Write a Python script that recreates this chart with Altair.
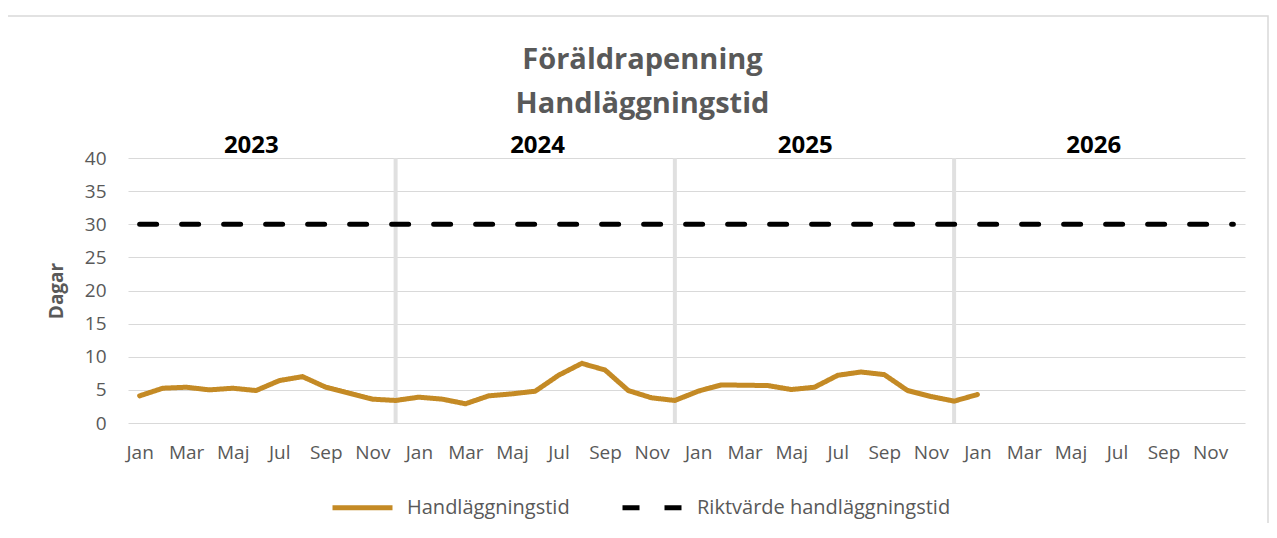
import altair as alt
import pandas as pd

month_names = ["Jan", "Feb", "Mar", "Apr", "Maj", "Jun", "Jul", "Aug", "Sep", "Okt", "Nov", "Dec"]
years = ["2023", "2024", "2025", "2026"]

# Handläggningstid (dagar), Jan 2023 - Jan 2026
handl = [4.1, 5.25, 5.4, 5.0, 5.25, 4.9, 6.4, 7.0, 5.4, 4.5, 3.6, 3.4,
         3.9, 3.6, 2.9, 4.1, 4.4, 4.8, 7.2, 9.0, 8.0, 4.9, 3.8, 3.4,
         4.8, 5.75, 5.7, 5.65, 5.05, 5.4, 7.2, 7.7, 7.3, 4.9, 4.0, 3.3,
         4.3]

# Riktvärde handläggningstid, Jan 2023 - Dec 2026
riktvarde = [30, 30, 30, 30, 30, 30, 30, 30, 30, 30, 30, 30,
             30, 30, 30, 30, 30, 30, 30, 30, 30, 30, 30, 30,
             30, 30, 30, 30, 30, 30, 30, 30, 30, 30, 30, 30,
             30, 30, 30, 30, 30, 30, 30, 30, 30, 30, 30, 30]

year_label_pos = [4.8, 17.1, 28.6, 41.0]   # month-index position of year labels
separator_pos = [11, 23, 35]               # December of 2023, 2024, 2025

S1 = "Handläggningstid"
S2 = "Riktvärde handläggningstid"

rows = []
for i, v in enumerate(handl):
    rows.append({"idx": i, "value": v, "serie": S1})
for i, v in enumerate(riktvarde):
    rows.append({"idx": i, "value": v, "serie": S2})
df = pd.DataFrame(rows)

FONT = "Open Sans"
GRAY = "#595959"
GRID = "#d9d9d9"

label_expr = "[" + ",".join("'%s'" % m for m in month_names) + "][datum.value % 12]"

x_scale = alt.Scale(domain=[-0.5, 47.5], nice=False, zero=False)
y_scale = alt.Scale(domain=[0, 40], nice=False)

x_axis = alt.Axis(values=list(range(0, 48, 2)), labelExpr=label_expr,
                  grid=False, ticks=False, domain=False, title=None,
                  labelPadding=20, labelFontSize=19, labelColor=GRAY,
                  labelFont=FONT, labelFlush=False, labelOverlap=False)
y_axis = alt.Axis(values=list(range(0, 45, 5)), grid=True, gridColor=GRID,
                  gridWidth=1, ticks=False, domain=False, title="Dagar",
                  titleFontSize=19, titleFont=FONT, titleColor=GRAY,
                  titleFontWeight="bold", titlePadding=18,
                  labelPadding=22, labelFontSize=19, labelColor=GRAY,
                  labelFont=FONT, labelOverlap=False)

frame = alt.Chart(pd.DataFrame({"a": [0]})).mark_rect(
    filled=False, stroke=GRID, strokeWidth=1.5
).encode(x=alt.value(-121), x2=alt.value(1140), y=alt.value(-142), y2=alt.value(420))

seps = alt.Chart(pd.DataFrame({"idx": separator_pos})).mark_rule(
    color="#e0e0e0", strokeWidth=4
).encode(x=alt.X("idx:Q", scale=x_scale, axis=x_axis))

lines = alt.Chart(df).mark_line(strokeWidth=5, strokeCap="round", strokeJoin="round").encode(
    x=alt.X("idx:Q", scale=x_scale, axis=x_axis),
    y=alt.Y("value:Q", scale=y_scale, axis=y_axis),
    color=alt.Color("serie:N",
                    scale=alt.Scale(domain=[S1, S2], range=["#C48A25", "#000000"]),
                    legend=alt.Legend(title=None, orient="none", direction="horizontal",
                                      legendX=202, legendY=317,
                                      symbolType="stroke", symbolSize=3600,
                                      symbolStrokeWidth=5, labelFontSize=20,
                                      labelColor=GRAY, labelFont=FONT, labelLimit=500,
                                      labelOffset=12, columnPadding=42)),
    strokeDash=alt.StrokeDash("serie:N",
                              scale=alt.Scale(domain=[S1, S2], range=[[1, 0], [17, 25]]),
                              legend=alt.Legend(title=None)),
)

year_df = pd.DataFrame({"idx": year_label_pos, "year": years, "value": [40] * 4})
year_text = alt.Chart(year_df).mark_text(
    font=FONT, fontSize=24, fontWeight="bold", color="#000000",
    baseline="alphabetic", dy=-5
).encode(x=alt.X("idx:Q", scale=x_scale, axis=x_axis),
         y=alt.Y("value:Q", scale=y_scale, axis=y_axis),
         text="year:N")

chart = alt.layer(frame, seps, lines, year_text).properties(
    width=1117, height=265,
    title=alt.TitleParams(text=["Föräldrapenning", "Handläggningstid"],
                          font=FONT, fontSize=29, fontWeight="bold", color=GRAY,
                          lineHeight=44, anchor="middle", dx=-44, offset=-104),
    autosize=alt.AutoSizeParams(type="none"),
    padding={"left": 120, "top": 150, "right": 24, "bottom": 100},
).configure(background="white", view=alt.ViewConfig(strokeWidth=0))

chart.save("out.html", embed_options={"renderer": "svg", "actions": False})
